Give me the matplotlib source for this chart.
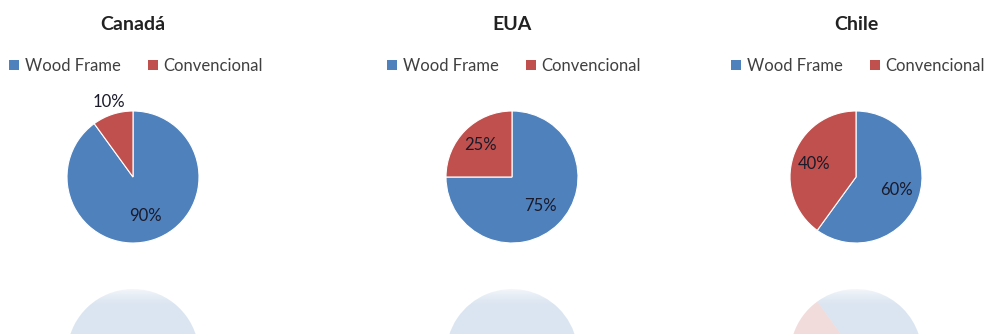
import numpy as np
import matplotlib.pyplot as plt
from matplotlib.patches import Patch
from matplotlib.legend import Legend

plt.rcParams['font.family'] = ['Lato', 'DejaVu Sans']

paises = ["Canadá", "EUA", "Chile"]
categorias = ["Wood Frame", "Convencional"]
wood_frame = [90, 75, 60]
convencional = [10, 25, 40]

cores = ["#4F81BD", "#C0504D"]

W, H = 986, 334
fig = plt.figure(figsize=(W / 100, H / 100), dpi=100)
ax = fig.add_axes([0, 0, 1, 1])
ax.set_xlim(0, W)
ax.set_ylim(0, H)
ax.set_aspect("equal")
ax.axis("off")

# layout in pixel coords (y measured from top)
centros_x = [133, 512, 856]
centro_y = 177
raio = 66
espelho_y = 266
dist_rotulos = [[0.62, 1.2], [0.62, 0.68], [0.64, 0.66]]
legenda_x = [136, 514, 858]

for i, pais in enumerate(paises):
    valores = [wood_frame[i], convencional[i]]
    cx = centros_x[i]
    cy = H - centro_y

    cunhas, _ = ax.pie(valores, colors=cores, startangle=90, counterclock=False,
                       center=(cx, cy), radius=raio, frame=True,
                       wedgeprops=dict(edgecolor="white", linewidth=0.8))

    # percentage labels at each wedge's mid angle
    for w, v, d in zip(cunhas, valores, dist_rotulos[i]):
        ang = np.deg2rad((w.theta1 + w.theta2) / 2)
        ax.text(cx + d * raio * np.cos(ang), cy + d * raio * np.sin(ang),
                f"{v}%", ha="center", va="center", fontsize=12, color="#1a1a2a")

    # faded mirror image below the pie
    ry = H - (2 * espelho_y - centro_y)
    ax.pie(valores, colors=cores, startangle=-90, counterclock=True,
           center=(cx, ry), radius=raio, frame=True,
           wedgeprops=dict(edgecolor="none", alpha=0.2))

    ax.text(cx, H - 25, pais, ha="center", va="center", fontsize=14,
            fontweight="bold", color="#222222")

    leg = Legend(ax, [Patch(facecolor=c) for c in cores], categorias,
                 loc="center", bbox_to_anchor=(legenda_x[i], H - 66),
                 bbox_transform=ax.transData, ncol=2, frameon=False,
                 fontsize=12, handlelength=0.6, handleheight=0.6,
                 handletextpad=0.35, columnspacing=1.6, labelcolor="#404040")
    ax.add_artist(leg)

# soften the top edge of the reflections
grad = np.zeros((60, 2, 4))
grad[..., :3] = 1.0
grad[..., 3] = np.linspace(0.0, 1.0, 60)[:, None] ** 1.5
ax.imshow(grad, extent=(0, W, H - 306, H - 284), origin="lower",
          aspect="auto", zorder=5)

ax.set_xlim(0, W)
ax.set_ylim(0, H)
fig.savefig("out.png", dpi=100)
